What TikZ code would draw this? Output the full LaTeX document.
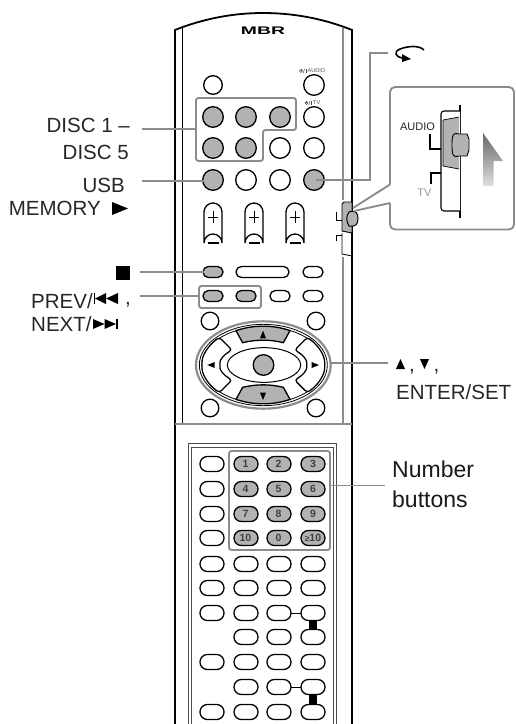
\documentclass[tikz,border=0pt]{standalone}
\usepackage{fontspec}
\setmainfont{Liberation Sans}
\definecolor{gb}{gray}{0.70}
\definecolor{gl}{gray}{0.55}
\tikzset{x=1pt,y=-1pt,
 body/.style={line width=1.8pt,black},
 thin line/.style={line width=0.9pt,black},
 leader/.style={line width=1.9pt,gl},
 frame/.style={line width=1.9pt,gl,rounded corners=2.5pt},
 btn/.style={draw=black,line width=1.3pt,fill=white},
 gbtn/.style={draw=black,line width=1.3pt,fill=gb},
 lab/.style={font=\fontsize{20.5}{20.5}\selectfont,text=black!85,inner sep=0pt},
 labb/.style={font=\fontsize{23}{23}\selectfont,text=black!90,inner sep=0pt},
 numtxt/.style={font=\fontsize{10.5}{10.5}\selectfont\bfseries,text=black!75,inner sep=0pt},
 tiny/.style={font=\fontsize{5.5}{5.5}\selectfont,text=black!70,inner sep=0pt}}
\newcommand{\Circ}[4]{\node[#4,circle,minimum size=#3*2pt,inner sep=0pt] at (#1,#2) {};}
\newcommand{\Pill}[5]{\draw[#5,rounded corners=#4*0.49pt] ({#1-#3/2},{#2-#4/2}) rectangle ({#1+#3/2},{#2+#4/2});}
\begin{document}
\begin{tikzpicture}
\useasboundingbox (0,0) rectangle (515,724);
% body
\draw[body] (175,724) -- (175,30) .. controls (205,18) and (235,13) .. (263,13) .. controls (292,13) and (322,18) .. (352,30) -- (352,724);
\draw[thin line] (182.5,28) -- (182.5,423);
\draw[line width=1.1pt,gl] (343,28) -- (343,200);
\draw[line width=1.1pt,gl] (343,257) -- (343,423);
\draw[line width=2pt,gl] (175,424) -- (352,424);
\draw[line width=0.8pt,black!70] (188,724) -- (188,443.5) -- (336,443.5) -- (336,724);
\draw[line width=0.8pt,black!70] (191,724) -- (191,447.5) -- (333,447.5) -- (333,724);
% logo
\node[inner sep=0pt,font=\fontsize{11}{11}\selectfont\bfseries] (logo) at (263,31) {\scalebox{1.76}[1]{MBR}};
% top buttons
\foreach \x/\y/\r in {213/85/9.3,314/85/10.3,314/117/10.3,280/148/10.3,314/148/10.3,246/180/10.3,280/180/10.3}{
  \Circ{\x}{\y}{\r}{btn}}
\foreach \x/\y in {213/117,246/117,280/117,213/148,246/148,213/180,314/180}{
  \Circ{\x}{\y}{10.3}{gbtn}}
% power labels
\foreach \x/\y in {301/71,306.5/103}{
 \draw[line width=.5pt,black!70] (\x,\y) circle (1.5pt);
 \draw[line width=.5pt,black!70] (\x,\y-2.2) -- (\x,\y);
 \draw[line width=.5pt,black!70] (\x+2.2,\y+2) -- (\x+3.6,\y-2.2);
 \draw[line width=.7pt,black!70] (\x+5,\y-2.2) -- (\x+5,\y+2);
}
\node[tiny,anchor=west] (tAudio) at (307.5,71) {AUDIO};
\node[tiny,anchor=west] (tTv) at (313,103) {TV};
% volume pills
\foreach \x in {213,254,295}{
 \draw[btn] (\x-9,243) arc[start angle=180,end angle=360,radius=9] -- (\x+9,212) arc[start angle=0,end angle=-180,radius=9] -- cycle;
 \draw[line width=.9pt] (\x,211) -- (\x,223) (\x-5,217) -- (\x+5,217);
 \draw[line width=1.5pt] (\x-5.5,243) -- (\x+5.5,243);
}
% small pills
\Pill{213}{272}{20}{11}{gbtn}
\Pill{262.5}{272}{53}{11}{btn}
\Pill{313}{272}{20}{11}{btn}
\Pill{213}{296}{20}{11}{gbtn}
\Pill{246}{296}{20}{11}{gbtn}
\Pill{280}{296}{20}{11}{btn}
\Pill{313}{296}{20}{11}{btn}
% corner circles
\foreach \x/\y in {210/321,316/321,210/408,316/408}{
  \Circ{\x}{\y}{8.8}{btn}}
% cursor pad, zoom coordinates
\begin{scope}[shift={(170,210)},x=1pt/3,y=-1pt/3]
 \draw[line width=2.2pt,gl,fill=white] (280,465) ellipse[x radius=202,y radius=131];
 \draw[line width=.8pt] (280,465) ellipse[x radius=192,y radius=122];
 \draw[line width=.8pt] (280,465) ellipse[x radius=184,y radius=115];
 \draw[gbtn] (198,362) .. controls (250,344) and (310,344) .. (360,362) -- (340,398) .. controls (300,388) and (260,388) .. (218,398) -- cycle;
 \draw[gbtn] (198,568) .. controls (250,586) and (310,586) .. (360,568) -- (340,532) .. controls (300,522) and (260,522) .. (218,532) -- cycle;
 \draw[btn,rounded corners=3pt] (148,382) .. controls (110,410) and (96,440) .. (96,465) .. controls (96,490) and (110,520) .. (148,548) -- (186,510) .. controls (160,495) and (150,480) .. (150,465) .. controls (150,450) and (160,435) .. (186,420) -- cycle;
 \draw[btn,rounded corners=3pt] (412,382) .. controls (450,410) and (464,440) .. (464,465) .. controls (464,490) and (450,520) .. (412,548) -- (374,510) .. controls (400,495) and (410,480) .. (410,465) .. controls (410,450) and (400,435) .. (374,420) -- cycle;
 \draw[line width=1pt,fill=white] (282,465) ellipse[x radius=110,y radius=52];
 \fill (279,362) -- (288,385) -- (270,385) -- cycle;
 \fill (279,570) -- (288,548) -- (270,548) -- cycle;
 \fill (112,465) -- (134,456) -- (134,474) -- cycle;
 \fill (447,465) -- (425,456) -- (425,474) -- cycle;
\end{scope}
\Circ{263.5}{365}{10.3}{gbtn}
% number pad
\foreach \y in {464,489,514,538,564,588,613,662,712}{
  \Pill{212}{\y}{24}{15}{btn}}
\foreach \y in {564,588,613,637,662,687,712}{
  \Pill{246}{\y}{24}{15}{btn}
  \Pill{279}{\y}{24}{15}{btn}
  \Pill{313}{\y}{24}{15}{btn}
}
\foreach \y/\na/\nb/\nc in {464/1/2/3,489/4/5/6,514/7/8/9,538/10/0/{\scalebox{.8}{≥}10}}{
  \Pill{246}{\y}{24}{15}{gbtn}
  \Pill{279}{\y}{24}{15}{gbtn}
  \Pill{313}{\y}{24}{15}{gbtn}
  \node[numtxt] at (245.5,\y) {\na};
  \node[numtxt] at (278.5,\y) {\nb};
  \node[numtxt] at (313,\y) {\nc};
}
\foreach \y in {613,687}{
  \draw[line width=.9pt] (291,\y) -- (301,\y);
  \fill (309,\y+8) rectangle (317,\y+17);
}
% grey frames
\draw[frame] (196,98) -- (296,98) -- (296,130) -- (263,130) -- (263,161) -- (196,161) -- cycle;
\draw[frame] (199,286) rectangle (261,308);
\draw[frame] (229,451) rectangle (330,550);
% switch on remote
\draw[line width=.9pt,fill=gb] (352,202) -- (344,202) -- (342,204) -- (342,231) -- (352,233) -- cycle;
\draw[line width=1pt,fill=gb] (349,212) .. controls (356,210) and (358,213) .. (358,218.5) .. controls (358,224) and (356,227) .. (349,226) .. controls (346,221) and (346,216) .. cycle;
\draw[line width=.9pt] (336,212) -- (336,220) -- (342,220) (336,241) -- (336,235) -- (342,235);
\draw[line width=.8pt] (342,233) -- (342,254) -- (352,256);
% leaders
\coordinate (d1) at (142,129);
\coordinate (u1) at (142,181);
\coordinate (s1) at (140,272);
\coordinate (p1) at (140,296);
\draw[leader] (d1) -- (196,129);
\draw[leader] (u1) -- (204,181);
\draw[leader] (s1) -- (204,272);
\draw[leader] (p1) -- (199,296);
\draw[leader] (331,363) -- (388,363);
\draw[leader] (330,485.5) -- (385,485.5);
\draw[leader] (316,180) -- (370,180) -- (370,52.7) -- (387.5,52.7);
% rotate icon
\draw[line width=1.6pt] (424,50) .. controls (419,45) and (408,46) .. (400,49) .. controls (393,52) and (396,57) .. (402,58);
\fill (402,54) -- (402,62) -- (411,59) -- cycle;
% callout
\draw[line width=1.9pt,gl] (353,208) -- (390,184.5);
\draw[line width=1.9pt,gl,rounded corners=5pt] (390,184.5) -- (390,87) -- (514,87) -- (514,229.5) -- (390,229.5) -- (390,203);
\draw[line width=1.9pt,gl] (390,203) -- (354,211);
\draw[line width=1.4pt] (460,105) -- (460,218);
\draw[line width=1.1pt,fill=white,rounded corners=3pt] (460,111) -- (441,111) -- (441,211) -- (460,211);
\fill[gb] (443,120) -- (459,117) -- (459,169) -- (443,166) -- cycle;
\draw[line width=.7pt] (443,120) -- (459,117) (443,120) -- (443,166) -- (459,169);
\draw[line width=.9pt,fill=gb] (459,134) .. controls (453,132) and (452,135) .. (452,145) .. controls (452,155) and (453,158) .. (459,156) -- (467,156) -- (469,150) -- (469,139) -- (467,134) -- cycle;
\draw[line width=1.8pt] (430,134) -- (430,149) -- (441,149) (441,173) -- (431,173) -- (431,184);
\node[inner sep=0pt,font=\fontsize{11}{11}\selectfont,text=black!85] (tA) at (417.5,127) {AUDIO};
\node[inner sep=0pt,font=\fontsize{11}{11}\selectfont,text=black!40] (tT) at (424.5,192.5) {TV};
\shade[bottom color=gray!25,top color=gray!80!black] (483,133) -- (503,161) -- (493.5,161) -- (493.5,186) -- (483,186) -- cycle;
% labels
\node[lab,anchor=base east] (a) at (130,132.7) {DISC 1 –};
\node[lab,anchor=base east] (b) at (129,159) {DISC 5};
\node[lab,anchor=base east] (c) at (125,192.7) {USB};
\node[lab,anchor=base east] (e) at (101,215) {MEMORY};
\fill (112,202) -- (128,208.5) -- (112,215) -- cycle;
\fill (116,266) rectangle (130,280);
\node[lab,anchor=base west] (f) at (31,308.5) {PREV/};
\node[lab,anchor=base west] (g) at (31,331.5) {NEXT/};
\fill (93.5,293) rectangle (95,304);
\fill (95,298.5) -- (106,293) -- (106,304) -- cycle;
\fill (106,298.5) -- (118,293) -- (118,304) -- cycle;
\node[lab,anchor=base west] (h) at (125,304) {,};
\fill (93,319) -- (104.5,324) -- (93,329) -- cycle;
\fill (104.5,319) -- (116,324) -- (104.5,329) -- cycle;
\fill (116,319) rectangle (118,329);
\fill (400.5,359) -- (405,369) -- (396,369) -- cycle;
\fill (424.5,369) -- (429,359) -- (420,359) -- cycle;
\node[lab,anchor=base west] (i) at (409,371) {,};
\node[lab,anchor=base west] (j) at (433.5,371) {,};
\node[lab,anchor=base west] (k) at (396,399) {ENTER/SET};
\node[labb,anchor=base west] (l) at (392,477) {Number};
\node[labb,anchor=base west] (m) at (392,507) {buttons};
\end{tikzpicture}
\end{document}
